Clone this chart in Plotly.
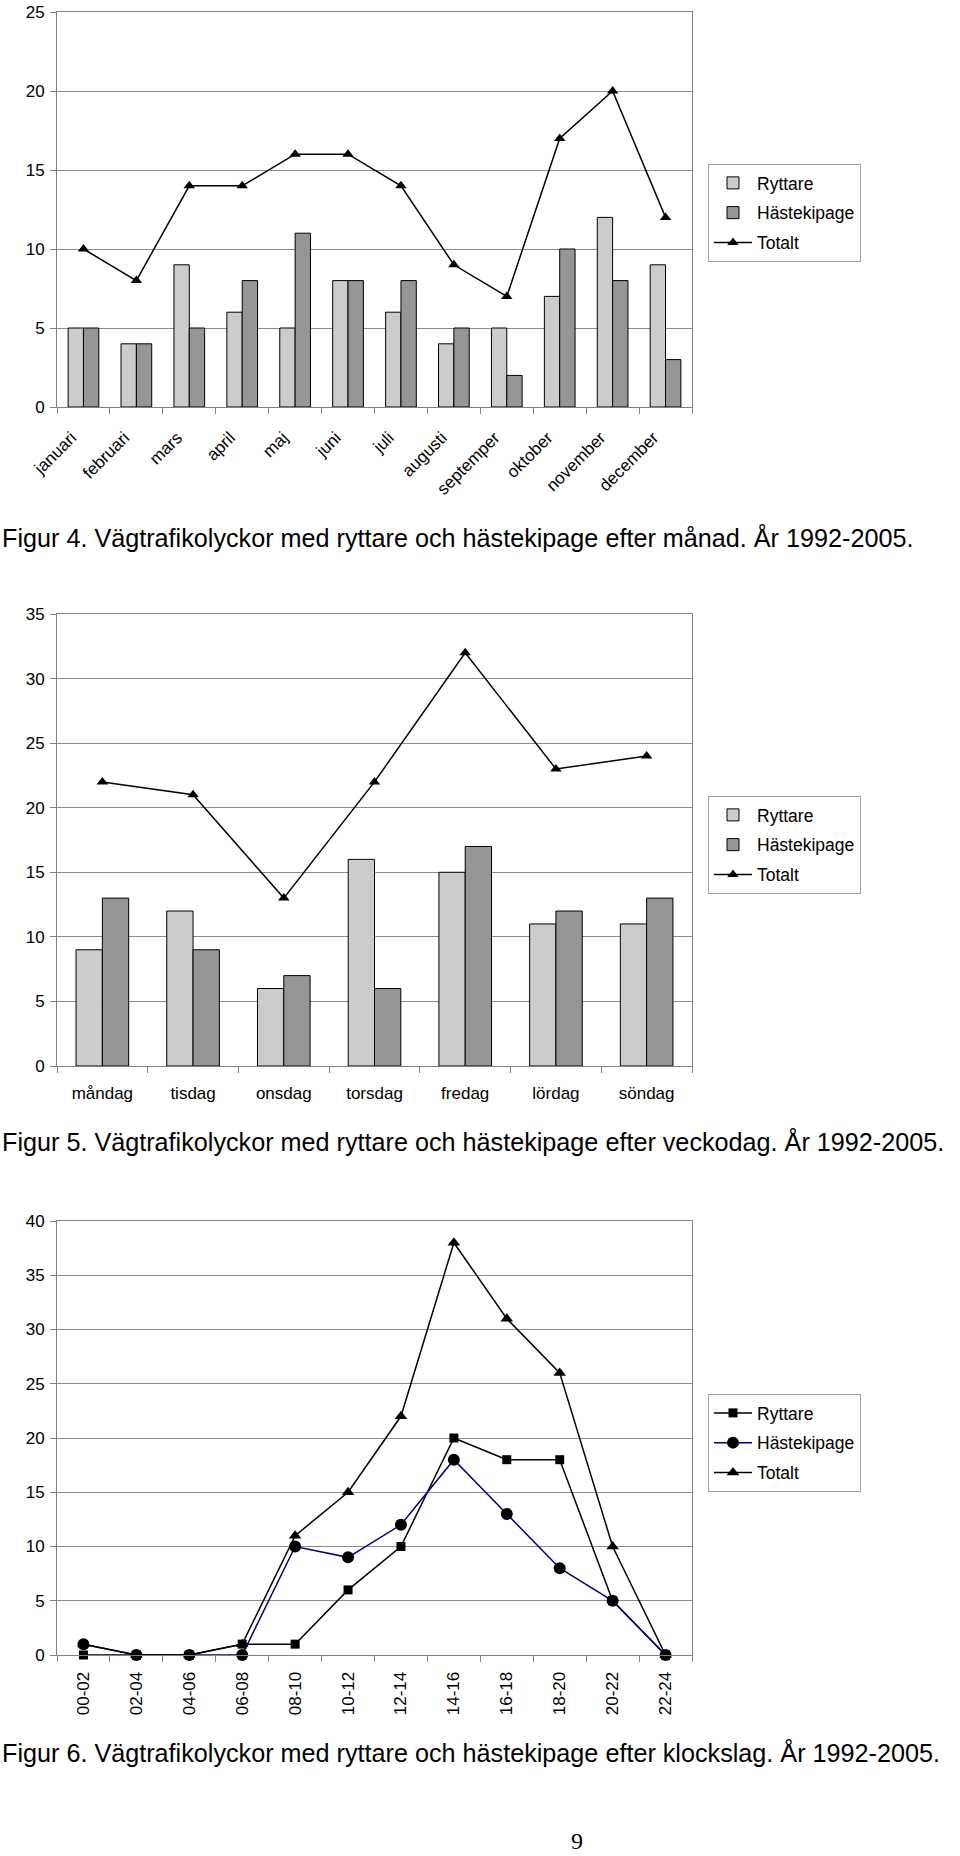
import plotly.graph_objects as go

# ---------------- data ----------------
months = ["januari", "februari", "mars", "april", "maj", "juni", "juli",
          "augusti", "septemper", "oktober", "november", "december"]
m_ryttare = [5, 4, 9, 6, 5, 8, 6, 4, 5, 7, 12, 9]
m_hast = [5, 4, 5, 8, 11, 8, 8, 5, 2, 10, 8, 3]
m_total = [10, 8, 14, 14, 16, 16, 14, 9, 7, 17, 20, 12]

days = ["måndag", "tisdag", "onsdag", "torsdag", "fredag", "lördag", "söndag"]
d_ryttare = [9, 12, 6, 16, 15, 11, 11]
d_hast = [13, 9, 7, 6, 17, 12, 13]
d_total = [22, 21, 13, 22, 32, 23, 24]

hours = ["00-02", "02-04", "04-06", "06-08", "08-10", "10-12",
         "12-14", "14-16", "16-18", "18-20", "20-22", "22-24"]
h_ryttare = [0, 0, 0, 1, 1, 6, 10, 20, 18, 18, 5, 0]
h_hast = [1, 0, 0, 0, 10, 9, 12, 18, 13, 8, 5, 0]
h_total = [1, 0, 0, 1, 11, 15, 22, 38, 31, 26, 10, 0]

captions = [
    "Figur 4. Vägtrafikolyckor med ryttare och hästekipage efter månad. År 1992-2005.",
    "Figur 5. Vägtrafikolyckor med ryttare och hästekipage efter veckodag. År 1992-2005.",
    "Figur 6. Vägtrafikolyckor med ryttare och hästekipage efter klockslag. År 1992-2005.",
]

# ---------------- styling ----------------
W, H = 960, 1856
FONT = "Liberation Sans, Arial, sans-serif"
LIGHT = "#CCCCCC"
DARK = "#969696"
GRID = "#8C8C8C"
AXIS = "#808080"


def fx(px):
    return px / W


def fy(px):
    return 1 - px / H


fig = go.Figure()

# chart 1 (months)
fig.add_trace(go.Bar(x=months, y=m_ryttare, name="Ryttare", marker=dict(color=LIGHT, line=dict(color="black", width=1)),
                     xaxis="x", yaxis="y", legend="legend", legendgroup="a1"))
fig.add_trace(go.Bar(x=months, y=m_hast, name="Hästekipage", marker=dict(color=DARK, line=dict(color="black", width=1)),
                     xaxis="x", yaxis="y", legend="legend", legendgroup="a2"))
fig.add_trace(go.Scatter(x=months, y=m_total, name="Totalt", mode="lines+markers",
                         line=dict(color="black", width=1.5),
                         marker=dict(symbol="triangle-up", size=10, color="black"),
                         xaxis="x", yaxis="y", legend="legend", legendgroup="a3", cliponaxis=False))

# chart 2 (days)
fig.add_trace(go.Bar(x=days, y=d_ryttare, name="Ryttare", marker=dict(color=LIGHT, line=dict(color="black", width=1)),
                     xaxis="x2", yaxis="y2", legend="legend2", legendgroup="b1"))
fig.add_trace(go.Bar(x=days, y=d_hast, name="Hästekipage", marker=dict(color=DARK, line=dict(color="black", width=1)),
                     xaxis="x2", yaxis="y2", legend="legend2", legendgroup="b2"))
fig.add_trace(go.Scatter(x=days, y=d_total, name="Totalt", mode="lines+markers",
                         line=dict(color="black", width=1.5),
                         marker=dict(symbol="triangle-up", size=10, color="black"),
                         xaxis="x2", yaxis="y2", legend="legend2", legendgroup="b3", cliponaxis=False))

# chart 3 (hours)
fig.add_trace(go.Scatter(x=hours, y=h_ryttare, name="Ryttare", mode="lines+markers",
                         line=dict(color="black", width=1.5),
                         marker=dict(symbol="square", size=9, color="black"),
                         xaxis="x3", yaxis="y3", legend="legend3", legendgroup="c1", cliponaxis=False))
fig.add_trace(go.Scatter(x=hours, y=h_hast, name="Hästekipage", mode="lines+markers",
                         line=dict(color="#000080", width=1.5),
                         marker=dict(symbol="circle", size=12, color="black"),
                         xaxis="x3", yaxis="y3", legend="legend3", legendgroup="c2", cliponaxis=False))
fig.add_trace(go.Scatter(x=hours, y=h_total, name="Totalt", mode="lines+markers",
                         line=dict(color="black", width=1.5),
                         marker=dict(symbol="triangle-up", size=11, color="black"),
                         xaxis="x3", yaxis="y3", legend="legend3", legendgroup="c3", cliponaxis=False))

xdom = [fx(57), fx(692)]
tickfont = dict(family=FONT, size=17, color="black")


def xax(angle, anchor, standoff, ncat, shift=0):
    return dict(domain=xdom, anchor=anchor, type="category", tickson="boundaries",
                range=[-0.5, ncat - 0.5], autorange=False, automargin=False,
                ticks="outside", ticklen=6, tickcolor=AXIS, showline=True, linecolor=AXIS,
                linewidth=1, mirror=True, showgrid=False, tickangle=angle, tickfont=tickfont,
                ticklabelstandoff=standoff, ticklabelshift=shift)


def yax(top, bottom, rmax, dtick, anchor):
    return dict(domain=[fy(bottom), fy(top)], anchor=anchor, range=[0, rmax], dtick=dtick,
                automargin=False,
                ticks="outside", ticklen=6, tickcolor=AXIS, showline=True, linecolor=AXIS,
                linewidth=1, mirror=True, showgrid=True, gridcolor=GRID, gridwidth=1,
                zeroline=False, tickfont=tickfont, ticklabelstandoff=2)


def leg(top):
    return dict(x=fx(708), y=fy(top), xanchor="left", yanchor="top", bgcolor="white",
                bordercolor="#A0A0A0", borderwidth=1, tracegroupgap=4, itemwidth=38,
                font=dict(family=FONT, size=17.5, color="black"), traceorder="grouped")


annotations = []
for txt, ypx in zip(captions, [537, 1141, 1752]):
    annotations.append(dict(text=txt, x=0, y=fy(ypx), xref="paper", yref="paper",
                            xanchor="left", yanchor="middle", showarrow=False,
                            font=dict(family=FONT, size=25.2, color="black")))
annotations.append(dict(text="9", x=fx(577), y=fy(1841), xref="paper", yref="paper",
                        xanchor="center", yanchor="middle", showarrow=False,
                        font=dict(family="Liberation Serif, Times New Roman, serif", size=24, color="black")))

fig.update_layout(
    width=W, height=H, autosize=False,
    margin=dict(l=0, r=0, t=0, b=0, autoexpand=False),
    paper_bgcolor="white", plot_bgcolor="white",
    barmode="group", bargap=0.42, bargroupgap=0,
    font=dict(family=FONT, color="black"),
    xaxis=xax(-45, "y", 13, len(months), -12),
    yaxis=yax(12, 407, 25, 5, "x"),
    xaxis2=xax(0, "y2", 12, len(days)),
    yaxis2=yax(614, 1066, 35, 5, "x2"),
    xaxis3=xax(-90, "y3", 9, len(hours)),
    yaxis3=yax(1221, 1655, 40, 5, "x3"),
    legend=leg(164),
    legend2=leg(796),
    legend3=leg(1394),
    annotations=annotations,
)

fig.write_html("out.html", config={"displayModeBar": False},
               post_script="document.body.style.margin='0';")
